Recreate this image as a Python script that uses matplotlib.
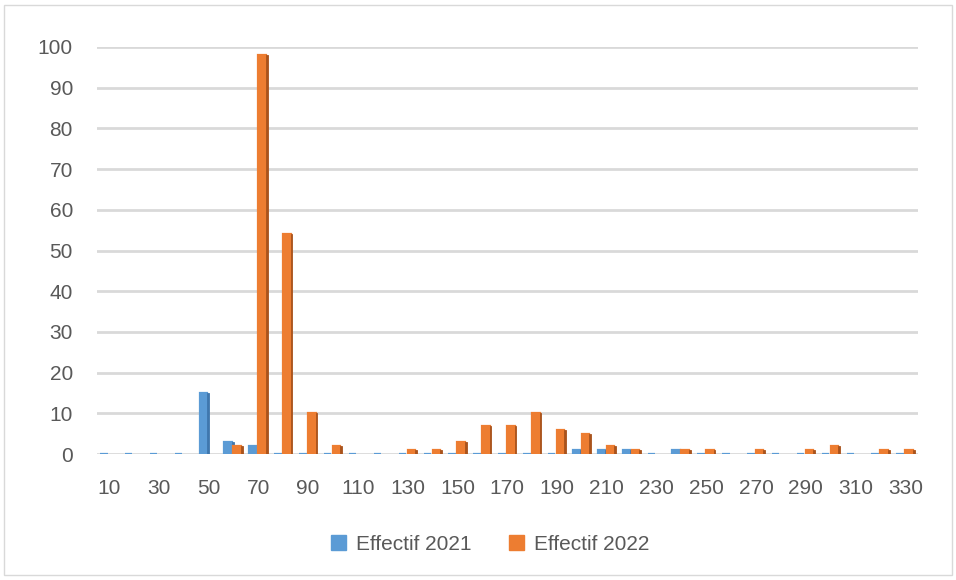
import numpy as np
import matplotlib
matplotlib.use("Agg")
import matplotlib.pyplot as plt
from matplotlib.patches import Rectangle

plt.rcParams['font.family'] = ['Liberation Sans', 'DejaVu Sans']

# Size classes (10 .. 330) and head counts per year
categories = list(range(10, 340, 10))
effectif_2021 = [0, 0, 0, 0, 15, 3, 2, 0, 0, 0, 0, 0, 0, 0, 0, 0, 0,
                 0, 0, 1, 1, 1, 0, 1, 0, 0, 0, 0, 0, 0, 0, 0, 0]
effectif_2022 = [None, None, None, None, None, 2, 98, 54, 10, 2, None, None, 1, 1, 3, 7, 7,
                 10, 6, 5, 2, 1, None, 1, 1, None, 1, None, 1, 2, None, 1, 1]
tick_labels = [str(c) for c in categories[::2]]
series_names = ["Effectif 2021", "Effectif 2022"]

blue, blue_dark = "#5B9BD5", "#3F77AD"
orange, orange_dark = "#ED7D31", "#A9531C"
text_gray = "#595959"
grid_gray = "#D9D9D9"

fig = plt.figure(figsize=(9.56, 5.8), dpi=100)
ax = fig.add_axes([0.101, 0.217, 0.859, 0.702])

x = np.arange(len(categories))
w = 0.30
side = 0.07

def draw_series(values, offset, face, dark):
    vals = np.array([np.nan if v is None else v for v in values], dtype=float)
    mask = ~np.isnan(vals)
    xs = x[mask] + offset
    hs = vals[mask]
    # front face
    ax.bar(xs, hs, width=w, color=face, edgecolor=face, linewidth=1.6,
           align='edge', zorder=3)
    # shaded side face for a column look
    ax.bar(xs + w, hs, width=side, color=dark, edgecolor=dark, linewidth=0.6,
           align='edge', zorder=3)

draw_series(effectif_2021, -0.36, blue, blue_dark)
draw_series(effectif_2022, 0.0, orange, orange_dark)

ax.set_xlim(-0.5, len(categories) - 0.5)
ax.set_ylim(0, 100)
ax.set_yticks(range(0, 101, 10))
ax.set_xticks(x[::2])
ax.set_xticklabels(tick_labels)
ax.yaxis.grid(True, color=grid_gray, linewidth=2)
ax.set_axisbelow(True)
for s in ax.spines.values():
    s.set_visible(False)
ax.tick_params(axis='both', length=0, labelsize=15, labelcolor=text_gray)
ax.tick_params(axis='y', pad=17)
ax.tick_params(axis='x', pad=18)

handles = [Rectangle((0, 0), 1, 1, color=blue), Rectangle((0, 0), 1, 1, color=orange)]
fig.legend(handles, series_names, loc='center', bbox_to_anchor=(0.513, 0.062),
           ncol=2, frameon=False, fontsize=15, labelcolor=text_gray,
           handlelength=0.7, handleheight=0.7, handletextpad=0.5, columnspacing=1.8)

fig.patches.append(Rectangle((0.004, 0.008), 0.992, 0.984, transform=fig.transFigure,
                             fill=False, edgecolor="#D9D9D9", linewidth=1))

fig.savefig("out.png", dpi=100)
